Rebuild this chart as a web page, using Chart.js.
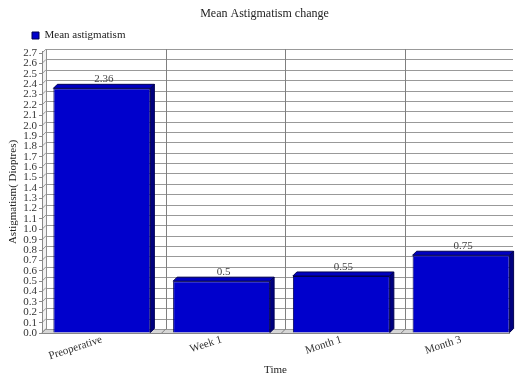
<!DOCTYPE html>
<html>
<head>
<meta charset="utf-8">
<script src="https://cdn.jsdelivr.net/npm/chart.js@4.4.1/dist/chart.umd.min.js"></script>
<style>
  html, body { margin: 0; padding: 0; background: #fff; }
  canvas { display: block; }
</style>
</head>
<body>
<canvas id="chart" width="515" height="378"></canvas>
<script>
// ---- data ----
const categories = ['Preoperative', 'Week 1', 'Month 1', 'Month 3'];
const meanAstigmatism = [2.36, 0.5, 0.55, 0.75];
const yTicks = [0.0, 0.1, 0.2, 0.3, 0.4, 0.5, 0.6, 0.7, 0.8, 0.9, 1.0, 1.1, 1.2, 1.3,
                1.4, 1.5, 1.6, 1.7, 1.8, 1.9, 2.0, 2.1, 2.2, 2.3, 2.4, 2.5, 2.6, 2.7];
const seriesName = 'Mean astigmatism';
const chartTitle = 'Mean Astigmatism change';
const yTitle = 'Astigmatism( Dioptres)';
const xTitle = 'Time';

// ---- style ----
const FONT = "'Liberation Serif', 'Times New Roman', serif";
const depth = { dx: 4, dy: 4 };
const barFront = '#0000cc';
const barTop = '#0000c0';
const barSide = '#000080';
const barEdge = '#000050';
const gridColor = '#999999';
const catLineColor = '#808080';

function poly(ctx, pts, fill, stroke) {
  ctx.beginPath();
  ctx.moveTo(pts[0][0], pts[0][1]);
  for (let i = 1; i < pts.length; i++) ctx.lineTo(pts[i][0], pts[i][1]);
  ctx.closePath();
  if (fill) { ctx.fillStyle = fill; ctx.fill(); }
  if (stroke) { ctx.strokeStyle = stroke; ctx.lineWidth = 1; ctx.stroke(); }
}
function seg(ctx, x1, y1, x2, y2, color) {
  ctx.beginPath();
  ctx.moveTo(x1, y1);
  ctx.lineTo(x2, y2);
  ctx.strokeStyle = color;
  ctx.lineWidth = 1;
  ctx.stroke();
}
const crisp = v => Math.round(v) + 0.5;

// Back wall, left wall and floor of the 3D plot box, with gridlines
const walls3d = {
  id: 'walls3d',
  beforeDraw(chart) {
    const { ctx } = chart;
    const xs = chart.scales.x, ys = chart.scales.y;
    const { dx, dy } = depth;
    const L = xs.left, R = xs.right;
    const T = ys.getPixelForValue(yTicks[yTicks.length - 1]);
    const B = ys.getPixelForValue(0);
    ctx.save();
    ctx.fillStyle = '#ffffff';
    ctx.fillRect(L + dx, T - dy, R - L, B - T);
    poly(ctx, [[L, T], [L + dx, T - dy], [L + dx, B - dy], [L, B]], '#f2f2f2');
    poly(ctx, [[L, B], [L + dx, B - dy], [R + dx, B - dy], [R, B]], '#d6d6d6');
    yTicks.forEach(v => {
      const p = ys.getPixelForValue(v);
      seg(ctx, L + dx, crisp(p - dy), R + dx, crisp(p - dy), gridColor);
      seg(ctx, L, p, L + dx, p - dy, gridColor);
    });
    for (let i = 0; i < categories.length - 1; i++) {
      const p = xs.getPixelForValue(i + 0.5);
      seg(ctx, crisp(p + dx), T - dy, crisp(p + dx), B - dy, catLineColor);
      seg(ctx, p, B, p + dx, B - dy, catLineColor);
    }
    seg(ctx, crisp(L + dx), T - dy, crisp(L + dx), B - dy, '#909090');
    seg(ctx, L, B - 0.5, L + dx, B - dy - 0.5, '#909090');
    ctx.restore();
  }
};

// Top and side faces of each bar, plus the value labels
const bars3d = {
  id: 'bars3d',
  beforeDatasetsDraw(chart) {
    const { ctx } = chart;
    const { dx, dy } = depth;
    ctx.save();
    chart.getDatasetMeta(0).data.forEach(bar => {
      const { x, y, width, base } = bar.getProps(['x', 'y', 'width', 'base'], true);
      const l = x - width / 2, r = x + width / 2;
      poly(ctx, [[l, y], [l + dx, y - dy], [r + dx, y - dy], [r, y]], barTop, barEdge);
      poly(ctx, [[r, y], [r + dx, y - dy], [r + dx, base - dy], [r, base]], barSide, barEdge);
    });
    ctx.restore();
  },
  afterDatasetsDraw(chart) {
    const { ctx } = chart;
    const { dx, dy } = depth;
    ctx.save();
    ctx.font = `11px ${FONT}`;
    ctx.fillStyle = '#444';
    ctx.textAlign = 'center';
    ctx.textBaseline = 'bottom';
    chart.getDatasetMeta(0).data.forEach((bar, i) => {
      const { x, y } = bar.getProps(['x', 'y'], true);
      ctx.fillText(String(meanAstigmatism[i]), x + dx / 2, y - dy + 0.5);
    });
    ctx.restore();
  }
};

new Chart(document.getElementById('chart'), {
  type: 'bar',
  data: {
    datasets: [{
      label: seriesName,
      data: meanAstigmatism.map((v, i) => ({ x: i, y: v })),
      backgroundColor: barFront,
      borderColor: barEdge,
      borderWidth: 1,
      categoryPercentage: 1,
      barPercentage: 0.81
    }]
  },
  options: {
    responsive: false,
    animation: false,
    devicePixelRatio: 1,
    layout: { padding: { top: 2, left: 20, right: 6, bottom: 0 } },
    plugins: {
      title: {
        display: true,
        text: chartTitle,
        color: '#222',
        font: { family: FONT, size: 12, weight: 'normal' },
        padding: { top: 5, bottom: -3.4 }
      },
      legend: {
        display: true,
        position: 'top',
        align: 'start',
        labels: {
          boxWidth: 7,
          boxHeight: 7,
          padding: 12,
          color: '#222',
          font: { family: FONT, size: 11 }
        }
      },
      tooltip: { enabled: false }
    },
    scales: {
      x: {
        type: 'linear',
        min: -0.5,
        max: 3.4,
        offset: false,
        afterBuildTicks: s => { s.ticks = categories.map((c, i) => ({ value: i })); },
        afterFit: s => { s.height = 45; },
        grid: { display: false, drawTicks: false },
        border: { display: true, color: '#888' },
        ticks: {
          autoSkip: false,
          minRotation: 18,
          maxRotation: 18,
          padding: 0,
          color: '#333',
          font: { family: FONT, size: 11 },
          callback: v => categories[v] ?? ''
        },
        title: {
          display: true,
          text: xTitle,
          color: '#222',
          font: { family: FONT, size: 11 },
          padding: { top: 0, bottom: 1 }
        }
      },
      y: {
        min: 0,
        max: 2.72,
        afterBuildTicks: s => { s.ticks = yTicks.map(v => ({ value: v })); },
        afterFit: s => { s.width = 22; },
        grid: { drawOnChartArea: false, drawTicks: true, tickLength: 3, color: '#888' },
        border: { display: true, color: '#888' },
        ticks: {
          autoSkip: false,
          padding: 2,
          color: '#333',
          font: { family: FONT, size: 11 },
          callback: v => Number(v).toFixed(1)
        },
        title: {
          display: true,
          text: yTitle,
          color: '#222',
          font: { family: FONT, size: 11 },
          padding: { top: -13.6, bottom: 0 }
        }
      }
    }
  },
  plugins: [walls3d, bars3d]
});
</script>
</body>
</html>
